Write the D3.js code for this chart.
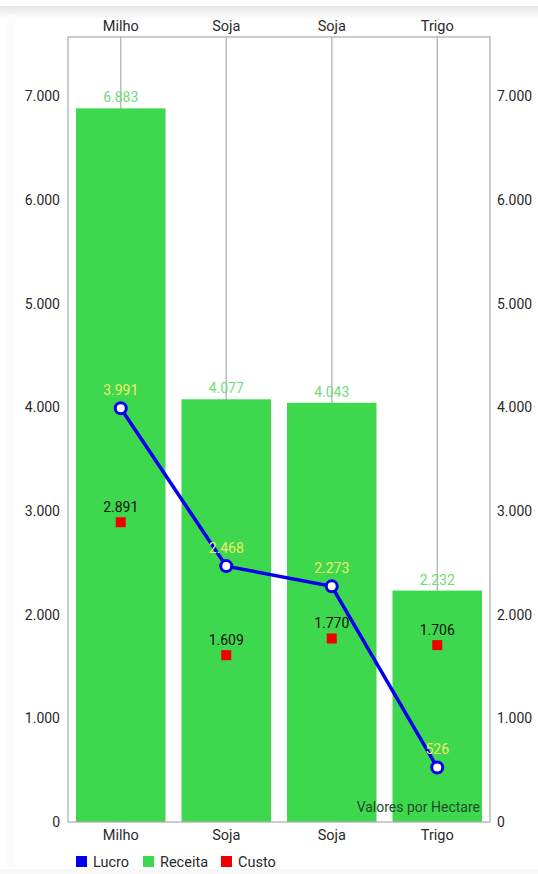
<!DOCTYPE html>
<html lang="pt">
<head>
    <meta charset="UTF-8">
    <title></title>
    <style>
        body { margin: 0; background: #fff; }
        text { font-family: Roboto, "Noto Sans", sans-serif; }
    </style>
</head>
<body>
<script src="https://d3js.org/d3.v7.min.js"></script>
<script>
    var culturas = ['Milho', 'Soja', 'Soja', 'Trigo'],
        receita = [6883, 4077, 4043, 2232],
        lucro = [3991, 2468, 2273, 526],
        custo = [2891, 1609, 1770, 1706],
        yTicks = [0, 1000, 2000, 3000, 4000, 5000, 6000, 7000];

    var width = 538,
        height = 874,
        plotLeft = 68, plotRight = 490, plotTop = 37, plotBottom = 822;

    var fmt = d3.format(',.0f');
    function br(v) { return fmt(v).replace(/,/g, '.'); }

    var svg = d3.select('body').append('svg')
                .attr('width', width)
                .attr('height', height);

    // card shadow
    var defs = svg.append('defs');
    var g1 = defs.append('linearGradient').attr('id', 'topShade')
                 .attr('x1', 0).attr('y1', 0).attr('x2', 0).attr('y2', 1);
    g1.append('stop').attr('offset', '0%').attr('stop-color', '#e6e6e6');
    g1.append('stop').attr('offset', '100%').attr('stop-color', '#fff');
    svg.append('rect').attr('x', 0).attr('y', 6).attr('width', width).attr('height', 14)
       .attr('fill', 'url(#topShade)');
    svg.append('rect').attr('x', 7).attr('y', 14).attr('width', 8).attr('height', 854)
       .attr('fill', '#fcfcfc');
    svg.append('rect').attr('x', 0).attr('y', 869).attr('width', width).attr('height', 5)
       .attr('fill', '#f8f8f8');

    var x = d3.scaleBand().domain(d3.range(culturas.length)).range([plotLeft, plotRight]);
    var y = d3.scaleLinear().domain([0, d3.max(receita) * 1.1]).range([plotBottom, plotTop]);

    var cx = function(i) { return x(i) + x.bandwidth() / 2; };

    // vertical grid lines
    svg.append('g').selectAll('line')
       .data(culturas).enter().append('line')
       .attr('x1', function(d, i) { return cx(i); })
       .attr('x2', function(d, i) { return cx(i); })
       .attr('y1', plotTop).attr('y2', plotBottom)
       .attr('stroke', '#bdbdbd').attr('stroke-width', 1.5);

    // bars
    var barPad = 8;
    svg.append('g').selectAll('rect')
       .data(receita).enter().append('rect')
       .attr('x', function(d, i) { return x(i) + barPad; })
       .attr('width', x.bandwidth() - 2 * barPad)
       .attr('y', function(d) { return y(d); })
       .attr('height', function(d) { return plotBottom - y(d); })
       .attr('fill', '#3ed84e');

    // frame
    svg.append('rect')
       .attr('x', plotLeft).attr('y', plotTop)
       .attr('width', plotRight - plotLeft).attr('height', plotBottom - plotTop)
       .attr('fill', 'none').attr('stroke', '#aaa').attr('stroke-width', 1.2);

    // y axes
    var yl = d3.axisLeft(y).tickValues(yTicks).tickSize(0).tickPadding(8).tickFormat(br);
    var yr = d3.axisRight(y).tickValues(yTicks).tickSize(0).tickPadding(7).tickFormat(br);
    [svg.append('g').attr('transform', 'translate(' + plotLeft + ',0)').call(yl),
     svg.append('g').attr('transform', 'translate(' + plotRight + ',0)').call(yr)].forEach(function(a) {
        a.select('.domain').remove();
        a.selectAll('text').attr('font-size', 14).attr('fill', '#2a2a2a')
         .attr('font-family', 'Roboto, sans-serif');
    });

    // x axes
    var xb = d3.axisBottom(x).tickSize(0).tickPadding(8).tickFormat(function(i) { return culturas[i]; });
    var xt = d3.axisTop(x).tickSize(0).tickPadding(6).tickFormat(function(i) { return culturas[i]; });
    [svg.append('g').attr('transform', 'translate(0,' + plotBottom + ')').call(xb),
     svg.append('g').attr('transform', 'translate(0,' + plotTop + ')').call(xt)].forEach(function(a) {
        a.select('.domain').remove();
        a.selectAll('text').attr('font-size', 14.5).attr('fill', '#2a2a2a')
         .attr('font-family', 'Roboto, sans-serif');
    });

    // receita labels
    svg.append('g').selectAll('text')
       .data(receita).enter().append('text')
       .attr('x', function(d, i) { return cx(i); })
       .attr('y', function(d) { return y(d) - 6; })
       .attr('text-anchor', 'middle').attr('font-size', 14)
       .attr('fill', '#6fdc79')
       .text(br);

    // custo squares
    svg.append('g').selectAll('rect')
       .data(custo).enter().append('rect')
       .attr('x', function(d, i) { return cx(i) - 5; })
       .attr('y', function(d) { return y(d) - 5; })
       .attr('width', 10).attr('height', 10)
       .attr('fill', '#f00000');
    svg.append('g').selectAll('text')
       .data(custo).enter().append('text')
       .attr('x', function(d, i) { return cx(i); })
       .attr('y', function(d) { return y(d) - 10; })
       .attr('text-anchor', 'middle').attr('font-size', 14)
       .attr('fill', '#111')
       .text(br);

    // lucro line
    var line = d3.line()
                 .x(function(d, i) { return cx(i); })
                 .y(function(d) { return y(d); });
    svg.append('path')
       .datum(lucro)
       .attr('d', line)
       .attr('fill', 'none')
       .attr('stroke', '#0000ee')
       .attr('stroke-width', 3.5);
    svg.append('g').selectAll('circle')
       .data(lucro).enter().append('circle')
       .attr('cx', function(d, i) { return cx(i); })
       .attr('cy', function(d) { return y(d); })
       .attr('r', 5.5)
       .attr('fill', '#fff')
       .attr('stroke', '#0000ee').attr('stroke-width', 3);
    svg.append('g').selectAll('text')
       .data(lucro).enter().append('text')
       .attr('x', function(d, i) { return cx(i); })
       .attr('y', function(d) { return y(d) - 13; })
       .attr('text-anchor', 'middle').attr('font-size', 14)
       .attr('fill', '#eeee6a')
       .text(br);

    // description
    svg.append('text')
       .attr('x', plotRight - 10).attr('y', plotBottom - 10)
       .attr('text-anchor', 'end').attr('font-size', 14)
       .attr('fill', '#234a28')
       .text('Valores por Hectare');

    // legend
    var legend = [{name: 'Lucro', color: '#0000ee', x: 76},
                  {name: 'Receita', color: '#3ed84e', x: 143},
                  {name: 'Custo', color: '#f00000', x: 221}];
    var lg = svg.append('g').selectAll('g')
                .data(legend).enter().append('g')
                .attr('transform', function(d) { return 'translate(' + d.x + ',856)'; });
    lg.append('rect').attr('width', 11).attr('height', 11).attr('fill', function(d) { return d.color; });
    lg.append('text').attr('x', 17).attr('y', 11).attr('font-size', 14.5).attr('fill', '#2a2a2a')
      .text(function(d) { return d.name; });
</script>
</body>
</html>
